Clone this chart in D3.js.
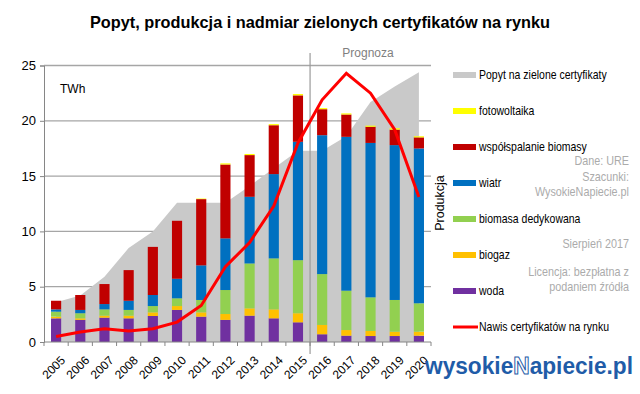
<!DOCTYPE html>
<html><head><meta charset="utf-8">
<script src="https://cdn.jsdelivr.net/npm/d3@7"></script>
<style>body{margin:0;background:#fff}svg{display:block}text{font-family:"Liberation Sans",Arial,sans-serif}</style>
</head><body><svg id="c" width="640" height="394"></svg>
<script>
const years = ["2005","2006","2007","2008","2009","2010","2011","2012","2013","2014","2015","2016","2017","2018","2019","2020"];
const demand = [3.6,4.2,5.9,8.5,10.0,12.6,12.6,12.6,14.1,15.7,17.3,17.3,18.6,21.7,23.1,24.4];
const woda = [2.14,2.0,2.2,2.14,2.35,2.9,2.29,2.0,2.38,2.14,1.78,0.7,0.57,0.54,0.54,0.57];
const biogaz = [0.15,0.14,0.18,0.24,0.33,0.35,0.39,0.53,0.66,0.81,0.82,0.84,0.51,0.46,0.39,0.36];
const biomasa = [0.45,0.46,0.57,0.52,0.57,0.7,1.12,2.17,4.06,4.61,4.8,4.6,3.56,3.04,2.87,2.57];
const wiatr = [0.21,0.3,0.48,0.83,1.0,1.77,3.13,4.67,6.03,7.62,10.7,12.56,13.91,13.96,14.0,14.0];
const wspol = [0.78,1.35,1.81,2.77,4.35,5.24,5.99,6.68,3.77,4.42,4.2,2.35,2.02,1.46,1.4,1.0];
const foto = [0,0,0,0,0,0,0.05,0.1,0.1,0.1,0.12,0.1,0.1,0.1,0.13,0.1];
const nawis = [0.5,0.9,1.2,1.0,1.2,1.8,3.3,6.8,9.0,12.3,18.0,21.9,24.3,22.5,19.2,13.1];
const yTicks = [0,5,10,15,20,25];
const forecastStart = "2016";

const series = [
  {name:"woda", values:woda, color:"#7030a0"},
  {name:"biogaz", values:biogaz, color:"#ffc000"},
  {name:"biomasa dedykowana", values:biomasa, color:"#92d050"},
  {name:"wiatr", values:wiatr, color:"#0070c0"},
  {name:"współspalanie biomasy", values:wspol, color:"#c00000"},
  {name:"fotowoltaika", values:foto, color:"#ffff00"}
];
const table = years.map((y,i)=>{const o={year:y}; series.forEach(s=>o[s.name]=s.values[i]); return o;});
const stacked = d3.stack().keys(series.map(s=>s.name))(table);

const svg = d3.select("#c");
const L=44, R=431, T=65.5, B=342;
const x = d3.scaleBand().domain(years).range([L,R]).padding(0);
const y = d3.scaleLinear().domain([0,25]).range([B,T]);
const cx = d => x(d)+x.bandwidth()/2;
const bw = x.bandwidth()*0.42;

// title
svg.append("text").attr("x",320).attr("y",28).attr("text-anchor","middle")
  .attr("font-size",17).attr("font-weight","bold").attr("fill","#000")
  .attr("textLength",460).attr("lengthAdjust","spacingAndGlyphs")
  .text("Popyt, produkcja i nadmiar zielonych certyfikatów na rynku");

// gridlines
svg.append("g").selectAll("line").data(yTicks.filter(t=>t>0)).join("line")
  .attr("x1",L).attr("x2",R).attr("y1",d=>y(d)).attr("y2",d=>y(d))
  .attr("stroke","#a6a6a6").attr("stroke-width",1.3);

// demand area
svg.append("path").datum(years)
  .attr("d", d3.area().x(d=>cx(d)).y0(y(0)).y1((d,i)=>y(demand[i])))
  .attr("fill","#c9c9c9");

// prognoza line
const xf = x(forecastStart);
svg.append("line").attr("x1",xf).attr("x2",xf).attr("y1",53).attr("y2",354)
  .attr("stroke","#9a9a9a").attr("stroke-width",1.2);
svg.append("text").attr("x",368).attr("y",57).attr("text-anchor","middle")
  .attr("font-size",12).attr("fill","#7f7f7f").text("Prognoza");

// bars
svg.append("g").selectAll("g").data(stacked).join("g")
  .attr("fill",(d,i)=>series[i].color)
  .selectAll("rect").data(d=>d).join("rect")
  .attr("x",d=>cx(d.data.year)-bw/2).attr("width",bw)
  .attr("y",d=>y(d[1])).attr("height",d=>Math.max(0,y(d[0])-y(d[1])));

// axes
const ya = svg.append("g").attr("transform",`translate(${L},0)`)
  .call(d3.axisLeft(y).tickValues(yTicks).tickSize(4).tickPadding(4));
ya.select(".domain").attr("stroke","#868686");
ya.selectAll(".tick line").attr("stroke","#868686");
ya.selectAll("text").attr("font-size",13).attr("fill","#000").attr("font-family","Liberation Sans, Arial, sans-serif");

const xa = svg.append("g");
xa.append("line").attr("x1",L).attr("x2",R).attr("y1",B).attr("y2",B).attr("stroke","#868686");
xa.selectAll("line.t").data(years.concat(["end"])).join("line").attr("class","t")
  .attr("x1",(d,i)=>L+i*x.step()).attr("x2",(d,i)=>L+i*x.step())
  .attr("y1",B).attr("y2",B+4).attr("stroke","#868686");
xa.selectAll("text").data(years).join("text")
  .attr("transform",d=>`translate(${cx(d)+4},${B+13}) rotate(-45)`)
  .attr("text-anchor","end").attr("dy","0.7em").attr("font-size",12).attr("fill","#000")
  .text(d=>d);

// nawis line
svg.append("path").datum(years)
  .attr("d", d3.line().x(d=>cx(d)).y((d,i)=>y(nawis[i])))
  .attr("fill","none").attr("stroke","#ff0000").attr("stroke-width",3).attr("stroke-linejoin","miter");

// TWh
svg.append("text").attr("x",60).attr("y",93).attr("font-size",12).attr("fill","#000").text("TWh");

// legend
const legend = [
  {name:"Popyt na zielone certyfikaty", color:"#c9c9c9", type:"rect"},
  {name:"fotowoltaika", color:"#ffff00", type:"rect"},
  {name:"współspalanie biomasy", color:"#c00000", type:"rect"},
  {name:"wiatr", color:"#0070c0", type:"rect"},
  {name:"biomasa dedykowana", color:"#92d050", type:"rect"},
  {name:"biogaz", color:"#ffc000", type:"rect"},
  {name:"woda", color:"#7030a0", type:"rect"},
  {name:"Nawis certyfikatów na rynku", color:"#ff0000", type:"line"}
];
const lg = svg.append("g").selectAll("g").data(legend).join("g")
  .attr("transform",(d,i)=>`translate(453,${75+i*36})`);
lg.filter(d=>d.type==="rect").append("rect").attr("x",0).attr("y",-3).attr("width",23).attr("height",6).attr("fill",d=>d.color);
lg.filter(d=>d.type==="line").append("line").attr("x1",0).attr("x2",25).attr("y1",0).attr("y2",0).attr("stroke",d=>d.color).attr("stroke-width",3);
lg.append("text").attr("transform","translate(26,0) scale(0.84,1)").attr("dy","0.35em").attr("font-size",12.5).attr("fill","#000").text(d=>d.name);

// Produkcja
svg.append("text").attr("transform","translate(444,203) rotate(-90)").attr("text-anchor","middle")
  .attr("font-size",12.5).attr("fill","#000").text("Produkcja");

// notes
const notes = [["Dane: URE",165],["Szacunki:",181],["WysokieNapiecie.pl",196],["Sierpień 2017",248],["Licencja: bezpłatna z",276],["podaniem źródła",291]];
svg.append("g").attr("transform","translate(629,0) scale(0.9,1)").selectAll("text").data(notes).join("text")
  .attr("x",0).attr("y",d=>d[1]).attr("text-anchor","end").attr("font-size",12).attr("fill","#ababab").text(d=>d[0]);

// logo
const logo = svg.append("text").attr("x",425).attr("y",374).attr("font-size",23).attr("font-weight","bold")
  .attr("font-family","DejaVu Sans, sans-serif").attr("fill","#1f5ca8")
  .attr("textLength",208).attr("lengthAdjust","spacingAndGlyphs");
logo.append("tspan").text("wysokie");
logo.append("tspan").attr("fill","#fff").attr("stroke","#1f5ca8").attr("stroke-width",1).text("N");
logo.append("tspan").text("apiecie.pl");
</script></body></html>
